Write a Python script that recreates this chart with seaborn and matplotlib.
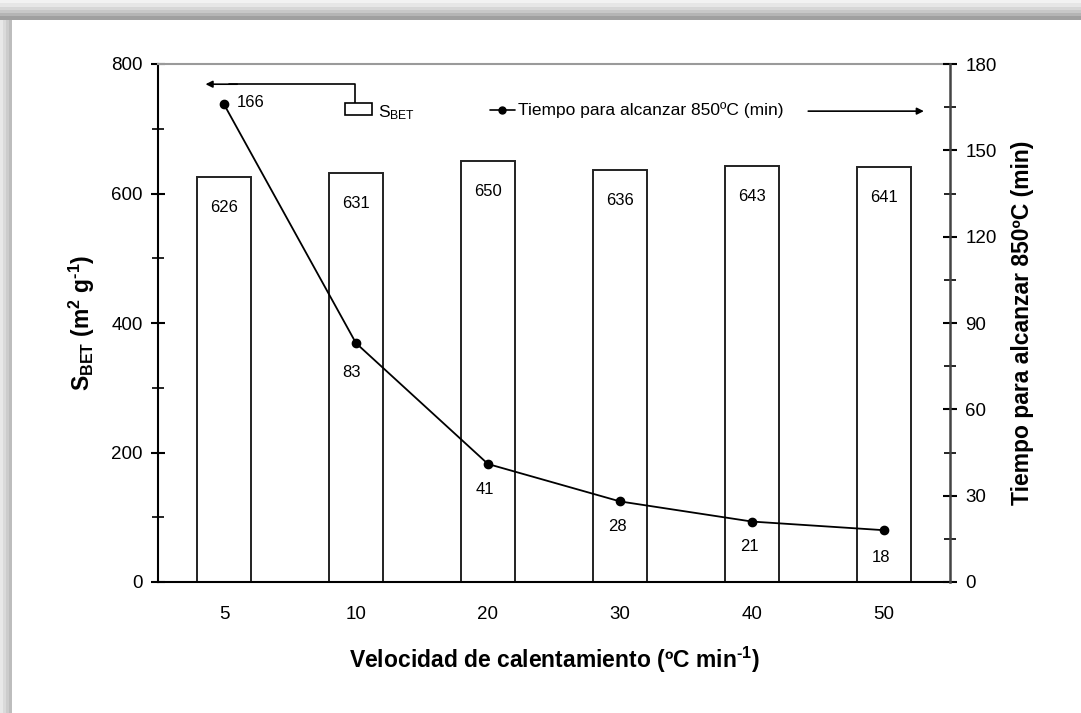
import matplotlib
matplotlib.use("Agg")
import matplotlib.pyplot as plt
import matplotlib.patches as mpatches
from matplotlib.lines import Line2D
import seaborn as sns
import pandas as pd
import numpy as np

# ---- data ----
rates = ["5", "10", "20", "30", "40", "50"]
sbet = [626, 631, 650, 636, 643, 641]
tiempo = [166, 83, 41, 28, 21, 18]

sns.set_theme(style="white")
plt.rcParams['font.family'] = ['Liberation Sans', 'DejaVu Sans']
plt.rcParams['mathtext.default'] = 'regular'
plt.rcParams['text.color'] = 'black'
plt.rcParams['axes.labelcolor'] = 'black'
plt.rcParams['xtick.color'] = 'black'
plt.rcParams['ytick.color'] = 'black'

df = pd.DataFrame({"rate": rates, "sbet": sbet, "tiempo": tiempo})

fig = plt.figure(figsize=(10.81, 7.13), dpi=100)
fig.patch.set_facecolor("white")

# decorative frame shadow (top & left)
top_cols = ["#f2f2f2", "#e6e6e6", "#d6d6d6", "#c8c8c8", "#b5b5b5", "#a0a0a0"]
for i, c in enumerate(top_cols):
    fig.patches.append(mpatches.Rectangle((0, 1 - (i + 1) * 3.3 / 713), 1, 3.3 / 713,
                                          transform=fig.transFigure, facecolor=c,
                                          edgecolor="none", zorder=-5))
left_cols = ["#e8e8e8", "#dadada", "#cccccc", "#bdbdbd"]
for i, c in enumerate(left_cols):
    fig.patches.append(mpatches.Rectangle((i * 3 / 1081, 0), 3 / 1081, 1 - 20 / 713,
                                          transform=fig.transFigure, facecolor=c,
                                          edgecolor="none", zorder=-5))

ax = fig.add_axes([158 / 1081, 1 - 582 / 713, 792 / 1081, 518 / 713])
sns.barplot(data=df, x="rate", y="sbet", order=rates, ax=ax, width=0.41,
            color="white", edgecolor="#222222", linewidth=1.4, errorbar=None)
ax.set_ylim(0, 800)
ax.set_yticks(np.arange(0, 801, 200))
ax.set_yticks(np.arange(100, 800, 200), minor=True)
ax.set_xlim(-0.5, 5.5)
ax.set_xticks(range(len(rates)))
ax.set_xticklabels(rates)
ax.set_xticks(np.arange(-0.5, 6.0, 1.0), minor=True)
ax.tick_params(axis="x", which="major", length=0, pad=17, labelsize=13.5, labelcolor="black")
ax.tick_params(axis="x", which="minor", length=8, direction="inout", width=1.2, color="black")
ax.tick_params(axis="y", which="major", length=10, direction="inout", width=1.5,
               labelsize=13.5, pad=6, color="black", labelcolor="black")
ax.tick_params(axis="y", which="minor", length=8, direction="inout", width=1.2, color="black")
ax.set_xlabel("Velocidad de calentamiento (ºC min$^{‐1}$)", fontsize=16.5, fontweight="bold",
              labelpad=16)
ax.set_ylabel("S$_{BET}$ (m$^{2}$ g$^{‐1}$)", fontsize=16.5, fontweight="bold",
              labelpad=10)
for side in ["left", "bottom"]:
    ax.spines[side].set_color("black")
    ax.spines[side].set_linewidth(1.5)
ax.spines["top"].set_color("#9a9a9a")
ax.spines["top"].set_linewidth(1.5)
ax.spines["right"].set_visible(False)

for i, v in enumerate(sbet):
    ax.annotate(f"{v}", (i, v), xytext=(0, -22), textcoords="offset points",
                ha="center", va="center", fontsize=12, color="black")

ax2 = ax.twinx()
sns.pointplot(data=df, x="rate", y="tiempo", order=rates, ax=ax2, color="black",
              markers="o", markersize=6, linewidth=1.3, errorbar=None)
ax2.set_ylim(0, 180)
ax2.set_xlim(-0.5, 5.5)
ax2.set_yticks(np.arange(0, 181, 30))
ax2.set_yticks(np.arange(15, 180, 30), minor=True)
ax2.tick_params(axis="y", which="major", length=10, direction="inout", width=1.5,
                labelsize=13.5, pad=6, color="black", labelcolor="black",
                right=True, left=False)
ax2.tick_params(axis="y", which="minor", length=8, direction="inout", width=1.2,
                color="black", right=True, left=False)
ax2.set_ylabel("Tiempo para alcanzar 850ºC (min)", fontsize=16.5, fontweight="bold",
               labelpad=10)
ax2.set_xlabel("")
for s in ["left", "top", "bottom"]:
    ax2.spines[s].set_visible(False)
ax2.spines["right"].set_color("#444444")
ax2.spines["right"].set_linewidth(1.8)

offsets = [(9, 1), (-3, -21), (-2, -18), (-2, -18), (-2, -18), (-2, -20)]
for i, v in enumerate(tiempo):
    dx, dy = offsets[i]
    ax2.annotate(f"{v}", (i, v), xytext=(dx, dy), textcoords="offset points",
                 ha="left" if i == 0 else "center", va="center", fontsize=12,
                 color="black")

# ---- custom legend ----
ax.add_patch(mpatches.Rectangle((0.236, 0.902), 0.034, 0.023, transform=ax.transAxes,
                                facecolor="white", edgecolor="black", linewidth=1.2,
                                clip_on=False, zorder=5))
ax.text(0.278, 0.906, "S$_{BET}$", transform=ax.transAxes, fontsize=12.5,
        va="center", ha="left")
ax.plot([0.249, 0.249, 0.09], [0.925, 0.961, 0.961], transform=ax.transAxes,
        color="black", lw=1.2, clip_on=False)
ax.annotate("", xy=(0.060, 0.961), xytext=(0.10, 0.961), xycoords="axes fraction",
            arrowprops=dict(arrowstyle="-|>", color="black", lw=1.2,
                            mutation_scale=10, shrinkA=0, shrinkB=0))
ax.add_line(Line2D([0.419, 0.451], [0.911, 0.911], transform=ax.transAxes, color="black",
                   lw=1.2))
ax.add_line(Line2D([0.434], [0.911], transform=ax.transAxes, color="black",
                   marker="o", markersize=5, lw=0))
ax.text(0.455, 0.911, "Tiempo para alcanzar 850ºC (min)", transform=ax.transAxes,
        fontsize=12.5, va="center", ha="left")
ax.annotate("", xy=(0.967, 0.909), xytext=(0.821, 0.909), xycoords="axes fraction",
            arrowprops=dict(arrowstyle="-|>", color="black", lw=1.2,
                            mutation_scale=10, shrinkA=0, shrinkB=0))

fig.savefig("out.png", dpi=100)
